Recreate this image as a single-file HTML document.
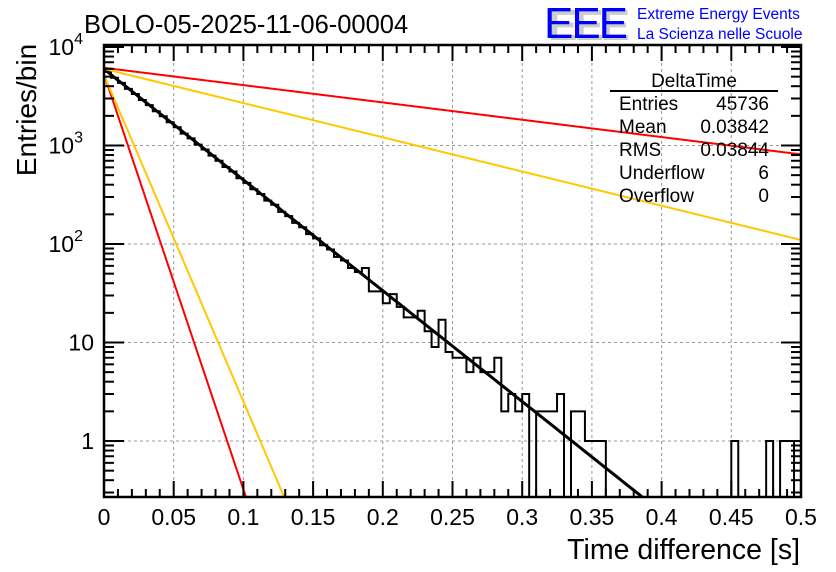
<!DOCTYPE html>
<html><head><meta charset="utf-8"><style>
html,body{margin:0;padding:0;background:#fff;}
svg{display:block;font-family:"Liberation Sans",sans-serif;}
</style></head><body>
<svg id="chart" width="836" height="572" viewBox="0 0 836 572">
<rect width="836" height="572" fill="#fff"/>
<text x="84" y="33" font-size="25.5">BOLO-05-2025-11-06-00004</text>
<g>
<text x="548" y="40" font-size="44" fill="#ccc" font-weight="bold" textLength="82">EEE</text>
<text x="544" y="38" font-size="44" fill="#0000ff" textLength="84">EEE</text>
<text x="637" y="19" font-size="15.5" fill="#0000ff">Extreme Energy Events</text>
<text x="637" y="39" font-size="15.5" fill="#0000ff">La Scienza nelle Scuole</text>
</g>
<g id="grid"></g>
<g id="marks"></g>
<g id="axes"></g>
<g font-size="19">
<text x="694" y="87" text-anchor="middle">DeltaTime</text>
<line x1="610" y1="91" x2="778" y2="91" stroke="#000" stroke-width="2"/>
<text x="619" y="110">Entries</text><text x="769" y="110" text-anchor="end">45736</text>
<text x="619" y="133">Mean</text><text x="769" y="133" text-anchor="end">0.03842</text>
<text x="619" y="156">RMS</text><text x="769" y="156" text-anchor="end">0.03844</text>
<text x="619" y="179">Underflow</text><text x="769" y="179" text-anchor="end">6</text>
<text x="619" y="202">Overflow</text><text x="769" y="202" text-anchor="end">0</text>
</g>
<text transform="translate(36,110) rotate(-90)" font-size="28" text-anchor="middle">Entries/bin</text>
<text x="800" y="559" font-size="28.5" text-anchor="end">Time difference [s]</text>
</svg>
<script>
const binEdgesStart = 0, binWidth = 0.005;
const counts = [5600,4880,4320,3760,3330,2900,2570,2230,1980,1720,1530,1320,1180,1020,910,790,700,605,545,465,418,360,322,276,250,212,192,164,148,126,114,97,88,74,68,57,52,57,33,33,25,31,23,18,18,21,13,9,17,8,7,7,5,7,5,5,7,2,3,2,3,0,2,2,2,3,0,2,2,1,1,1,0,0,0,0,0,0,0,0,0,0,0,0,0,0,0,0,0,0,1,0,0,0,0,1,0,1,1,0];
const fitNames = ["fit-black","fit-red-shallow","fit-yellow-shallow","fit-red-steep","fit-yellow-steep"];
const fitAmp = [5970,6150,6000,5300,5200];
const fitTau = [0.0386,0.247,0.125,0.0103,0.0131];
const fitColor = ["#000","#ff0000","#ffc800","#ff0000","#ffc800"];
const xTicks = ["0","0.05","0.1","0.15","0.2","0.25","0.3","0.35","0.4","0.45","0.5"];
const yTicks = [1,10,100,1000,10000];

const NS="http://www.w3.org/2000/svg";
const X0=104,X1=801,Y0=497,Y1=45;
const yDec=98.5, yRef=47;
const xs=v=>X0+(v-0)/0.5*(X1-X0);
const ys=v=>yRef+(4-Math.log10(v))*yDec;
const yMin=Math.pow(10,4-(Y0-yRef)/yDec);
function mk(t,a,p){const e=document.createElementNS(NS,t);for(const k in a)e.setAttribute(k,a[k]);p.appendChild(e);return e;}
const grid=document.getElementById('grid'),marks=document.getElementById('marks'),axes=document.getElementById('axes');
xTicks.forEach((l,i)=>{const v=parseFloat(l);if(i>0&&i<xTicks.length-1){const g=mk('line',{x1:xs(v),x2:xs(v),y1:Y1,y2:Y0,stroke:'#999','stroke-dasharray':'3,3'},grid);

}});
yTicks.forEach(v=>{if(ys(v)>Y1+2){const g=mk('line',{x1:X0,x2:X1,y1:ys(v),y2:ys(v),stroke:'#999','stroke-dasharray':'3,3'},grid);

}});
let d='';let prev=null;
counts.forEach((c,i)=>{const xa=xs(binEdgesStart+i*binWidth),xb=xs(binEdgesStart+(i+1)*binWidth);
const y=c>0?Math.min(Y0,ys(c)):Y0;
if(prev===null)d+=`M${xa},${y}`;else d+=`L${xa},${y}`;d+=`L${xb},${y}`;prev=y;});
const h=mk('path',{d:d,fill:'none',stroke:'#000','stroke-width':2},marks);


fitNames.forEach((n,k)=>{let p='';for(let j=0;j<=400;j++){const x=0.5*j/400;const v=fitAmp[k]*Math.exp(-x/fitTau[k]);
if(v<yMin){const xe=fitTau[k]*Math.log(fitAmp[k]/yMin);p+=`L${xs(xe)},${Y0}`;break;}
p+=(j?'L':'M')+xs(x)+','+ys(v);}
const f=mk('path',{d:p,fill:'none',stroke:fitColor[k],'stroke-width':k==0?3:2},marks);

});
const fr=mk('rect',{x:X0,y:Y1,width:X1-X0,height:Y0-Y1,fill:'none',stroke:'#000','stroke-width':2.5},axes);


for(let i=0;i<=50;i++){const x=xs(i*0.01);const L=i%5==0?16:8;
mk('line',{x1:x,x2:x,y1:Y0,y2:Y0-L,stroke:'#000','stroke-width':2},axes);
mk('line',{x1:x,x2:x,y1:Y1,y2:Y1+L,stroke:'#000','stroke-width':2},axes);}
xTicks.forEach(l=>{const t=mk('text',{x:xs(parseFloat(l)),y:525,'font-size':23,'text-anchor':'middle'},axes);t.textContent=l;

});
for(let e=-1;e<=4;e++){for(let m=1;m<=9;m++){const v=m*Math.pow(10,e);const y=ys(v);if(y>Y0||y<Y1)continue;const L=m==1?20:10;
mk('line',{x1:X0,x2:X0+L,y1:y,y2:y,stroke:'#000','stroke-width':2},axes);
mk('line',{x1:X1,x2:X1-L,y1:y,y2:y,stroke:'#000','stroke-width':2},axes);}}
yTicks.forEach(v=>{const y=ys(v);const e=Math.log10(v);const t=mk('text',{x:94,y:y+8,'font-size':23,'text-anchor':'end'},axes);
if(e>=2){t.textContent='10';const s=mk('tspan',{dy:-11,'font-size':16},t);s.textContent=String(e);t.setAttribute('x',83);}else t.textContent=String(v);

});
</script>
</body></html>
